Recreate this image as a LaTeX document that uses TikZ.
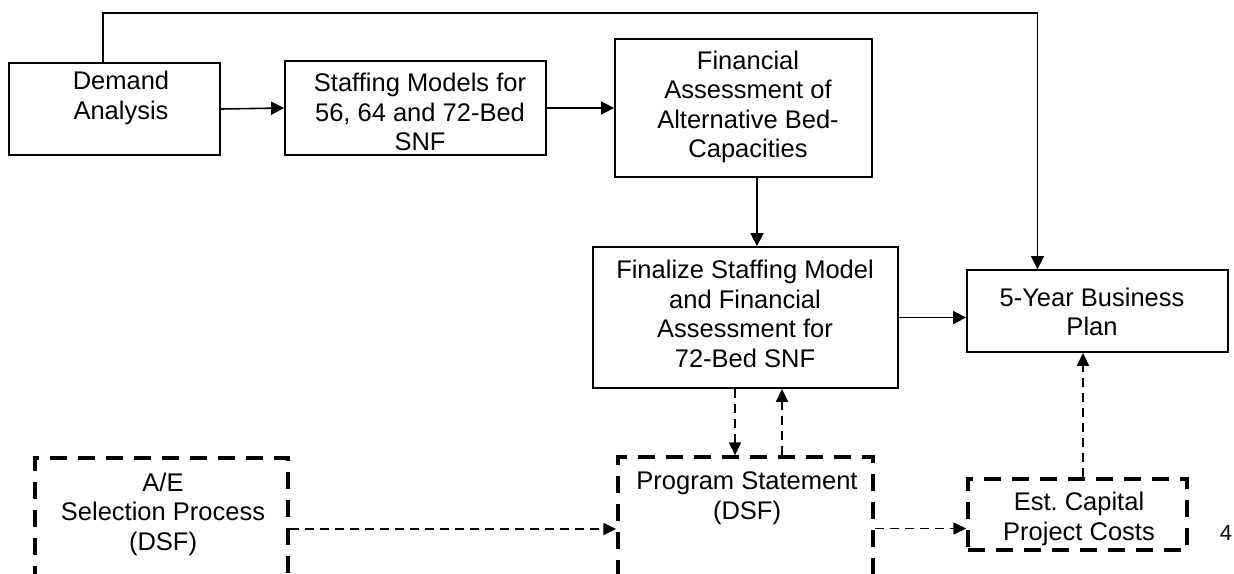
\documentclass[tikz,border=0pt]{standalone}
\usepackage{fontspec}
\setmainfont{Liberation Sans}
\usetikzlibrary{arrows.meta}
\tikzset{
  box/.style={draw, line width=1.8pt, inner sep=0pt},
  dbox/.style={draw, line width=3.5pt, dash pattern=on 17pt off 11pt, inner sep=0pt},
  txt/.style={align=center, inner sep=0pt, font=\fontsize{25.5}{29.5}\selectfont},
  flow/.style={-{Triangle[length=13pt,width=13pt]}, line width=1.6pt},
  dflow/.style={-{Triangle[length=13pt,width=12pt]}, line width=1.6pt, dash pattern=on 9pt off 6pt},
}
\begin{document}
\begin{tikzpicture}[x=1pt, y=-1pt]
  \useasboundingbox (0,0) rectangle (1234,573);
  \clip (0,0) rectangle (1234,573);
  % solid boxes
  \foreach \n/\x/\y/\w/\h in {dem/114.5/109/211/92, stf/415.5/108/261/94,
      fin/743.5/108/257/138, fnl/745.5/317.5/305/141, biz/1097.5/311/261/82}{%
    \node(\n)[box, minimum width=\w pt, minimum height=\h pt] at(\x,\y) {};
  }
  % dashed boxes (the lower two run off the page)
  \foreach \n/\x/\y/\w/\h in {ae/161.5/529/253/142, prg/745.5/528.5/255/143,
      est/1077.5/514.5/219/71}{%
    \node(\n)[dbox, minimum width=\w pt, minimum height=\h pt] at(\x,\y) {};
  }
  \node(demtxt)[txt] at(121,98) {Demand\\Analysis};
  \node(stftxt)[txt] at(420,112) {Staffing Models for\\56, 64 and 72-Bed\\SNF};
  \node(fintxt)[txt] at(748,107) {Financial\\Assessment of\\Alternative Bed-\\Capacities};
  \node(fnltxt)[txt] at(745,314) {Finalize Staffing Model\\and Financial\\Assessment for\\72-Bed SNF};
  \node(biztxt)[txt] at(1092,312) {5-Year Business\\Plan};
  \node(aetxt)[txt] at(163,514) {A/E\\Selection Process\\(DSF)};
  \node(prgtxt)[txt] at(747,498) {Program Statement\\(DSF)};
  \node(esttxt)[txt] at(1079,519) {Est.\ Capital\\Project Costs};
  \node(pnum)[txt, font=\fontsize{22}{26}\selectfont] at(1226,533) {4};
  \coordinate(top) at(0,13);
  % solid flow
  \draw[flow]([xshift=-11.5pt]dem.north) -- ([xshift=-11.5pt]dem.north |- top)
    -| ([xshift=-60pt]biz.north);
  \draw[flow](dem.east) -- (stf.west);
  \draw[flow](stf.east) -- (stf.east -| fin.west);
  \draw[flow]([xshift=13.5pt]fin.south) -- ([xshift=13.5pt]fin.south |- fnl.north);
  \draw[flow](fnl.east) -- (fnl.east -| biz.west);
  % dashed flow
  \draw[dflow]([xshift=-10.5pt]fnl.south) -- ([xshift=-10.5pt]fnl.south |- prg.north);
  \draw[dflow]([xshift=36.5pt]prg.north) -- ([xshift=36.5pt]prg.north |- fnl.south);
  \draw[dflow](ae.east) -- (ae.east -| prg.west);
  \draw[dflow](prg.east) -- (prg.east -| est.west);
  \draw[dflow]([xshift=5.5pt]est.north) -- ([xshift=5.5pt]est.north |- biz.south);
\end{tikzpicture}
\end{document}
